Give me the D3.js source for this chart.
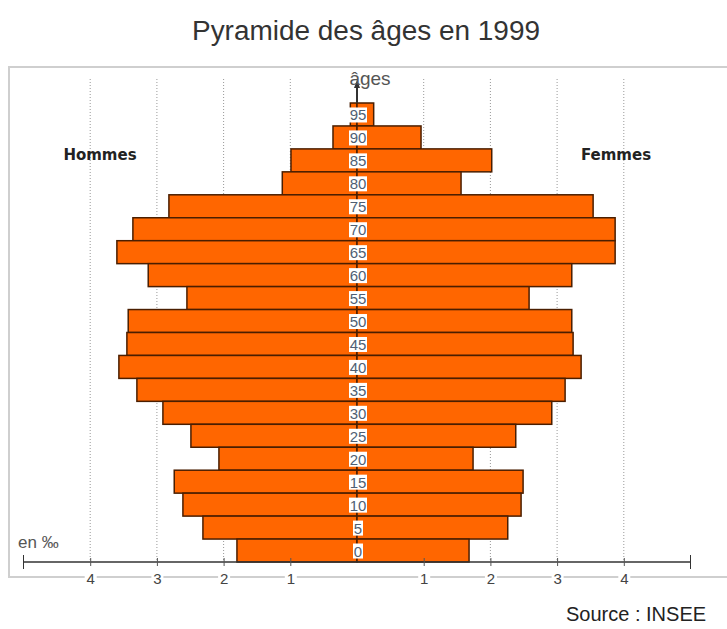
<!DOCTYPE html>
<html>
<head>
<meta charset="utf-8">
<script src="https://cdn.jsdelivr.net/npm/d3@7"></script>
<style>
  body { margin: 0; background: #fff; }
  svg { display: block; font-family: "Liberation Sans", Arial, sans-serif; }
</style>
</head>
<body>
<svg id="chart" width="727" height="629"></svg>
<script>
// age groups, top to bottom
const ages = [95, 90, 85, 80, 75, 70, 65, 60, 55, 50, 45, 40, 35, 30, 25, 20, 15, 10, 5, 0];
// share of population per 5-year group, per mille
const hommes = [0.1, 0.36, 0.99, 1.12, 2.82, 3.36, 3.6, 3.13, 2.55, 3.43, 3.45, 3.57, 3.3, 2.91, 2.49, 2.07, 2.74, 2.61, 2.31, 1.8];
const femmes = [0.25, 0.96, 2.02, 1.56, 3.54, 3.87, 3.87, 3.22, 2.58, 3.22, 3.24, 3.36, 3.12, 2.92, 2.38, 1.74, 2.49, 2.46, 2.26, 1.68];
const tickValues = [1, 2, 3, 4];

const svg = d3.select("#chart");
const cx = 357;
const unit = 66.7;

const xL = d3.scaleLinear().domain([0, 5]).range([cx, cx - 5 * unit]);
const xR = d3.scaleLinear().domain([0, 5]).range([cx, cx + 5 * unit]);
const y = d3.scaleBand().domain(ages).range([103, 562]);
const axisY = 562;

// title
svg.append("text")
  .attr("x", 366).attr("y", 40)
  .attr("text-anchor", "middle")
  .attr("font-size", 27)
  .attr("fill", "#333")
  .attr("textLength", 348)
  .attr("lengthAdjust", "spacingAndGlyphs")
  .text("Pyramide des âges en 1999");

// frame
svg.append("rect")
  .attr("x", 9).attr("y", 67)
  .attr("width", 760).attr("height", 510)
  .attr("fill", "none")
  .attr("stroke", "#cfcfcf")
  .attr("stroke-width", 2);

// dotted grid
const grid = svg.append("g");
for (const [scale, v] of tickValues.flatMap((v) => [[xL, v], [xR, v]])) {
  grid.append("line")
    .attr("x1", scale(v)).attr("x2", scale(v))
    .attr("y1", 79).attr("y2", axisY)
    .attr("stroke", "#999")
    .attr("stroke-dasharray", "1,2");
}

// bars
const bars = svg.append("g")
  .attr("fill", "#ff6600")
  .attr("stroke", "#4a1e00")
  .attr("stroke-width", 1.5);

bars.selectAll("rect.h")
  .data(ages)
  .join("rect")
  .attr("class", "h")
  .attr("x", (d, i) => xL(hommes[i]))
  .attr("y", (d) => y(d))
  .attr("width", (d, i) => xL(0) - xL(hommes[i]))
  .attr("height", y.bandwidth());

bars.selectAll("rect.f")
  .data(ages)
  .join("rect")
  .attr("class", "f")
  .attr("x", xR(0))
  .attr("y", (d) => y(d))
  .attr("width", (d, i) => xR(femmes[i]) - xR(0))
  .attr("height", y.bandwidth());

// central axis with arrow
svg.append("line")
  .attr("x1", cx).attr("x2", cx)
  .attr("y1", 82).attr("y2", 103)
  .attr("stroke", "#333")
  .attr("stroke-width", 2);
svg.append("path")
  .attr("d", `M${cx - 3},${88} L${cx},${80} L${cx + 3},${88} Z`)
  .attr("fill", "#333");

svg.append("text")
  .attr("x", 370).attr("y", 85)
  .attr("text-anchor", "middle")
  .attr("font-size", 19)
  .attr("fill", "#555")
  .text("âges");

// age labels in the middle column
const labels = svg.append("g");
labels.selectAll("rect")
  .data(ages)
  .join("rect")
  .attr("x", (d) => (d < 10 ? 353 : 349))
  .attr("y", (d) => y(d) + y.bandwidth() / 2 - 7)
  .attr("width", (d) => (d < 10 ? 10 : 18))
  .attr("height", 15)
  .attr("fill", "#fff");
labels.selectAll("text")
  .data(ages)
  .join("text")
  .attr("x", 358)
  .attr("y", (d) => y(d) + y.bandwidth() / 2 + 6)
  .attr("text-anchor", "middle")
  .attr("font-size", 15)
  .attr("fill", "#4f5f74")
  .text((d) => d);

// side labels
svg.append("text")
  .attr("x", 100).attr("y", 160)
  .attr("text-anchor", "middle")
  .attr("font-family", "DejaVu Sans")
  .attr("font-weight", "bold")
  .attr("font-size", 15)
  .attr("fill", "#222")
  .text("Hommes");
svg.append("text")
  .attr("x", 616).attr("y", 160)
  .attr("text-anchor", "middle")
  .attr("font-family", "DejaVu Sans")
  .attr("font-weight", "bold")
  .attr("font-size", 15)
  .attr("fill", "#222")
  .text("Femmes");

// bottom axis
const axis = svg.append("g").attr("transform", `translate(0,${axisY})`);
axis.append("line")
  .attr("x1", xL(5)).attr("x2", xR(5))
  .attr("stroke", "#333")
  .attr("stroke-width", 1.5);
for (const x of [xL(5), xR(5)]) {
  axis.append("line")
    .attr("x1", x).attr("x2", x)
    .attr("y1", -7).attr("y2", 7)
    .attr("stroke", "#333");
}
for (const scale of [xL, xR]) {
  const g = axis.append("g")
    .call(d3.axisBottom(scale).tickValues(tickValues).tickFormat(d3.format("d"))
      .tickSize(4).tickSizeOuter(0));
  g.select(".domain").remove();
  g.selectAll(".tick line").attr("y1", -4).attr("stroke", "#555");
  g.selectAll(".tick text")
    .attr("y", 11)
    .attr("font-size", 15)
    .attr("font-family", "Liberation Sans, Arial, sans-serif")
    .attr("fill", "#444");
  g.selectAll(".tick").insert("rect", "text")
    .attr("x", -6).attr("y", 10)
    .attr("width", 12).attr("height", 15)
    .attr("fill", "#fff");
}

svg.append("text")
  .attr("x", 18).attr("y", 548)
  .attr("font-size", 17)
  .attr("fill", "#555")
  .text("en ‰");

svg.append("text")
  .attr("x", 566).attr("y", 621)
  .attr("font-size", 20)
  .attr("fill", "#222")
  .text("Source : INSEE");
</script>
</body>
</html>
